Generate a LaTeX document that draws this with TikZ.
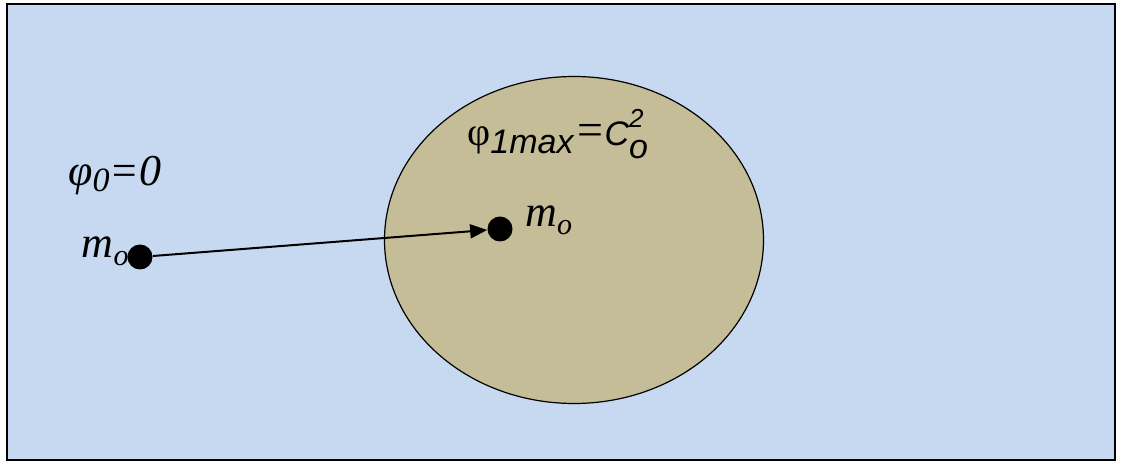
\documentclass[tikz,border=0pt]{standalone}
\usepackage{fontspec}
\setmainfont{Liberation Serif}
\setsansfont{Liberation Sans}
\usepackage{xcolor}
\usepackage{tikz}
\usetikzlibrary{arrows.meta, positioning}
\definecolor{fieldblue}{HTML}{C6D9F0}
\definecolor{wellkhaki}{HTML}{C4BD97}
\tikzstyle{arrow} = [line width=1pt, -{Triangle[length=8.5pt, width=7pt]}]
\tikzstyle{dot}   = [circle, fill=black, inner sep=0pt, minimum size=12.5pt]
\tikzset{txt/.style={inner sep=0pt, font=\fontsize{22}{24}\selectfont\itshape}}

\begin{document}
\begin{tikzpicture}[x=0.5pt, y=-0.5pt]
  \useasboundingbox (0,0) rectangle (1123,464);
  % Field
  \filldraw[fill=fieldblue, draw=black, line width=1pt] (7,4) rectangle (1115,460);
  % Well
  \filldraw[fill=wellkhaki, draw=black, line width=0.6pt] (574,240) ellipse [x radius=94.75pt, y radius=81.75pt];

  % Masses and the move
  \node[dot] (start) at (140,257) {};
  \node[dot] (end)   at (500,229) {};
  \draw[arrow] (start) -- (end);

  % Labels
  \node[txt, anchor=base west] (phizero) at (68,186) {φ\raisebox{-0.12em}{\fontsize{17}{18}\selectfont 0}=0};
  \node[txt, anchor=base east] (mleft)   at (129,258) {m\raisebox{-0.18em}{\fontsize{15}{16}\selectfont o}};
  \node[txt, anchor=base west] (mright)  at (525,227) {m\raisebox{-0.18em}{\fontsize{15}{16}\selectfont o}};
  \node[anchor=base west, inner sep=0pt, font=\fontsize{17}{19}\selectfont\sffamily] (phimax) at (467,146)
    {{\rmfamily\fontsize{20}{22}\selectfont φ}\raisebox{-0.22em}{\itshape 1max}\hspace{0.1em}{\rmfamily\fontsize{23}{24}\selectfont =}\hspace{0.05em}\itshape C\rlap{\raisebox{0.55em}{\fontsize{13}{14}\selectfont 2}}\raisebox{-0.36em}{o}};
\end{tikzpicture}
\end{document}
